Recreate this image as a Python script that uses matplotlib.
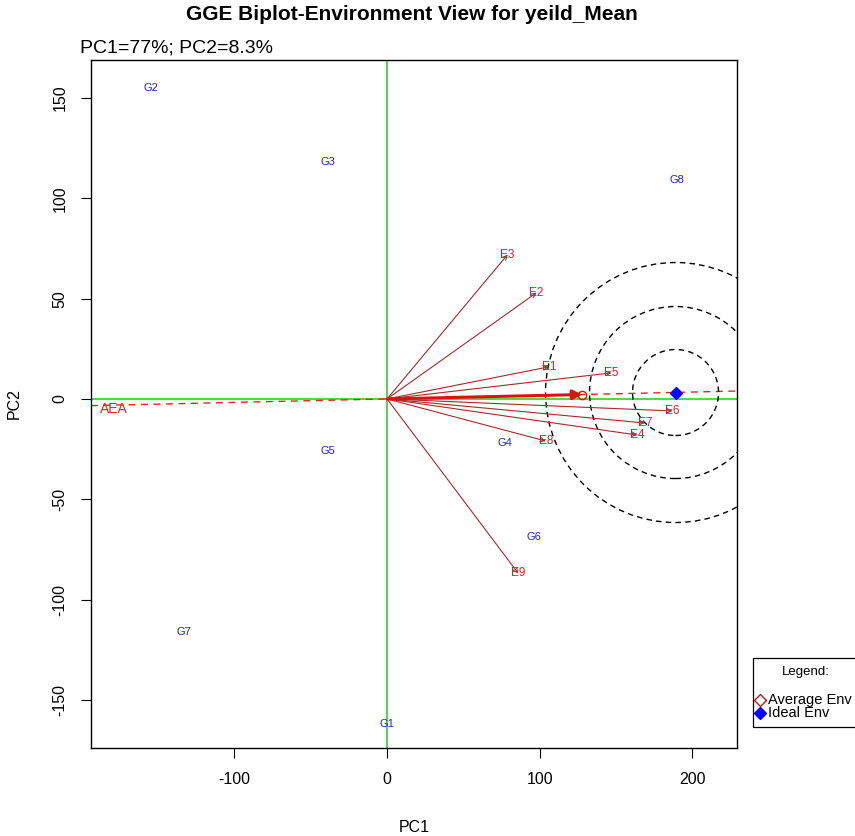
import matplotlib
matplotlib.use("Agg")
import matplotlib.pyplot as plt
from matplotlib.patches import Ellipse, Rectangle
from matplotlib.lines import Line2D

plt.rcParams['font.family'] = ['Liberation Sans', 'DejaVu Sans']
plt.rcParams['axes.unicode_minus'] = False

# genotype scores
gen_names = ['G1', 'G2', 'G3', 'G4', 'G5', 'G6', 'G7', 'G8']
gen_pc1 = [0, -155, -39, 77, -39, 96, -133, 190]
gen_pc2 = [-162, 155, 118, -22, -26, -69, -116, 109]

# environment scores
env_names = ['E1', 'E2', 'E3', 'E4', 'E5', 'E6', 'E7', 'E8', 'E9']
env_pc1 = [106, 98, 79, 164, 147, 187, 169, 104, 86]
env_pc2 = [16, 53, 72, -18, 13, -6, -12, -21, -87]

avg_env = (128, 2.2)
ideal_env = (189, 3.2)
ring_px = [43, 86, 130]   # ring radii (pixels on the reference)

W, H = 855, 836
fig = plt.figure(figsize=(W / 100, H / 100), dpi=100)
ax = fig.add_axes([0.1064, 0.1053, 0.756, 0.823])
xlim = (-194, 229.5)
ylim = (-174, 169)
ax.set_xlim(xlim)
ax.set_ylim(ylim)

# px per data unit
sx = 0.756 * W / (xlim[1] - xlim[0])
sy = 0.823 * H / (ylim[1] - ylim[0])

ax.axhline(0, color='#33cc33', lw=1.2, zorder=1)
ax.axvline(0, color='#33cc33', lw=1.2, zorder=1)

# environment vectors
for n, x, y in zip(env_names, env_pc1, env_pc2):
    ax.annotate('', xy=(x, y), xytext=(0, 0),
                arrowprops=dict(arrowstyle='->', color='#A52A2A', lw=0.8,
                                mutation_scale=8, shrinkA=0, shrinkB=0), zorder=3)
    ax.text(x, y, n, color='#e02020', fontsize=8.5, ha='center', va='center', zorder=4)

# average environment axis
slope = avg_env[1] / avg_env[0]
ax.plot([xlim[0], xlim[1]], [slope * xlim[0], slope * xlim[1]], color='#ee2222',
        ls=(0, (5, 4)), lw=1, zorder=2)
ax.annotate('', xy=avg_env, xytext=(0, 0),
            arrowprops=dict(arrowstyle='-|>', color='#e01010', lw=2.2,
                            mutation_scale=14, shrinkA=0, shrinkB=0), zorder=3)
ax.plot(*avg_env, marker='o', mfc='none', mec='#e01010', ms=6, zorder=4)
ax.text(-188, -5, 'AEA', color='#ee2222', fontsize=10, ha='left', va='center')

# concentric rings round the ideal environment
for r in ring_px:
    ax.add_patch(Ellipse(ideal_env, 2 * r / sx, 2 * r / sy, fill=False,
                         ec='black', ls=(0, (4, 3)), lw=1, zorder=2))
ax.plot(*ideal_env, marker='D', color='blue', ms=6, zorder=5)

# genotypes
for n, x, y in zip(gen_names, gen_pc1, gen_pc2):
    ax.text(x, y, n, color='#2222cc', fontsize=8, ha='center', va='center', zorder=4)

ax.set_xticks([-100, 0, 100, 200])
ax.set_yticks([-150, -100, -50, 0, 50, 100, 150])
ax.tick_params(labelsize=11.5, length=7, direction='out', pad=10)
for lab in ax.get_yticklabels():
    lab.set_rotation(90)
    lab.set_va('center')
ax.set_xlabel('PC1', fontsize=11.5, labelpad=24)
ax.set_ylabel('PC2', fontsize=11.5, labelpad=22)
for s in ax.spines.values():
    s.set_linewidth(1)

fig.text(412 / W, 1 - 15 / H, 'GGE Biplot-Environment View for yeild_Mean', ha='center',
         va='center', fontsize=15, fontweight='bold')
fig.text(80 / W, 1 - 48 / H, 'PC1=77%; PC2=8.3%', ha='left', va='center', fontsize=14)

# legend box, partly cut off at the right edge like the original
def px(x, y):
    return x / W, 1 - y / H

fig.add_artist(Rectangle(px(753, 727), 120 / W, 69 / H, transform=fig.transFigure,
                         fill=False, ec='black', lw=0.9))
fig.text(*px(806, 672), 'Legend:', ha='center', va='center', fontsize=9.5)
fig.add_artist(Line2D([760 / W], [1 - 700 / H], ls='none', marker='D', mfc='none',
                      mec='#cc1111', ms=6, transform=fig.transFigure))
fig.text(*px(768, 700), 'Average Env', ha='left', va='center', fontsize=10.5)
fig.add_artist(Line2D([760 / W], [1 - 713 / H], ls='none', marker='D', color='blue',
                      ms=6, transform=fig.transFigure))
fig.text(*px(768, 713), 'Ideal Env', ha='left', va='center', fontsize=10.5)

fig.savefig('out.png', dpi=100)
